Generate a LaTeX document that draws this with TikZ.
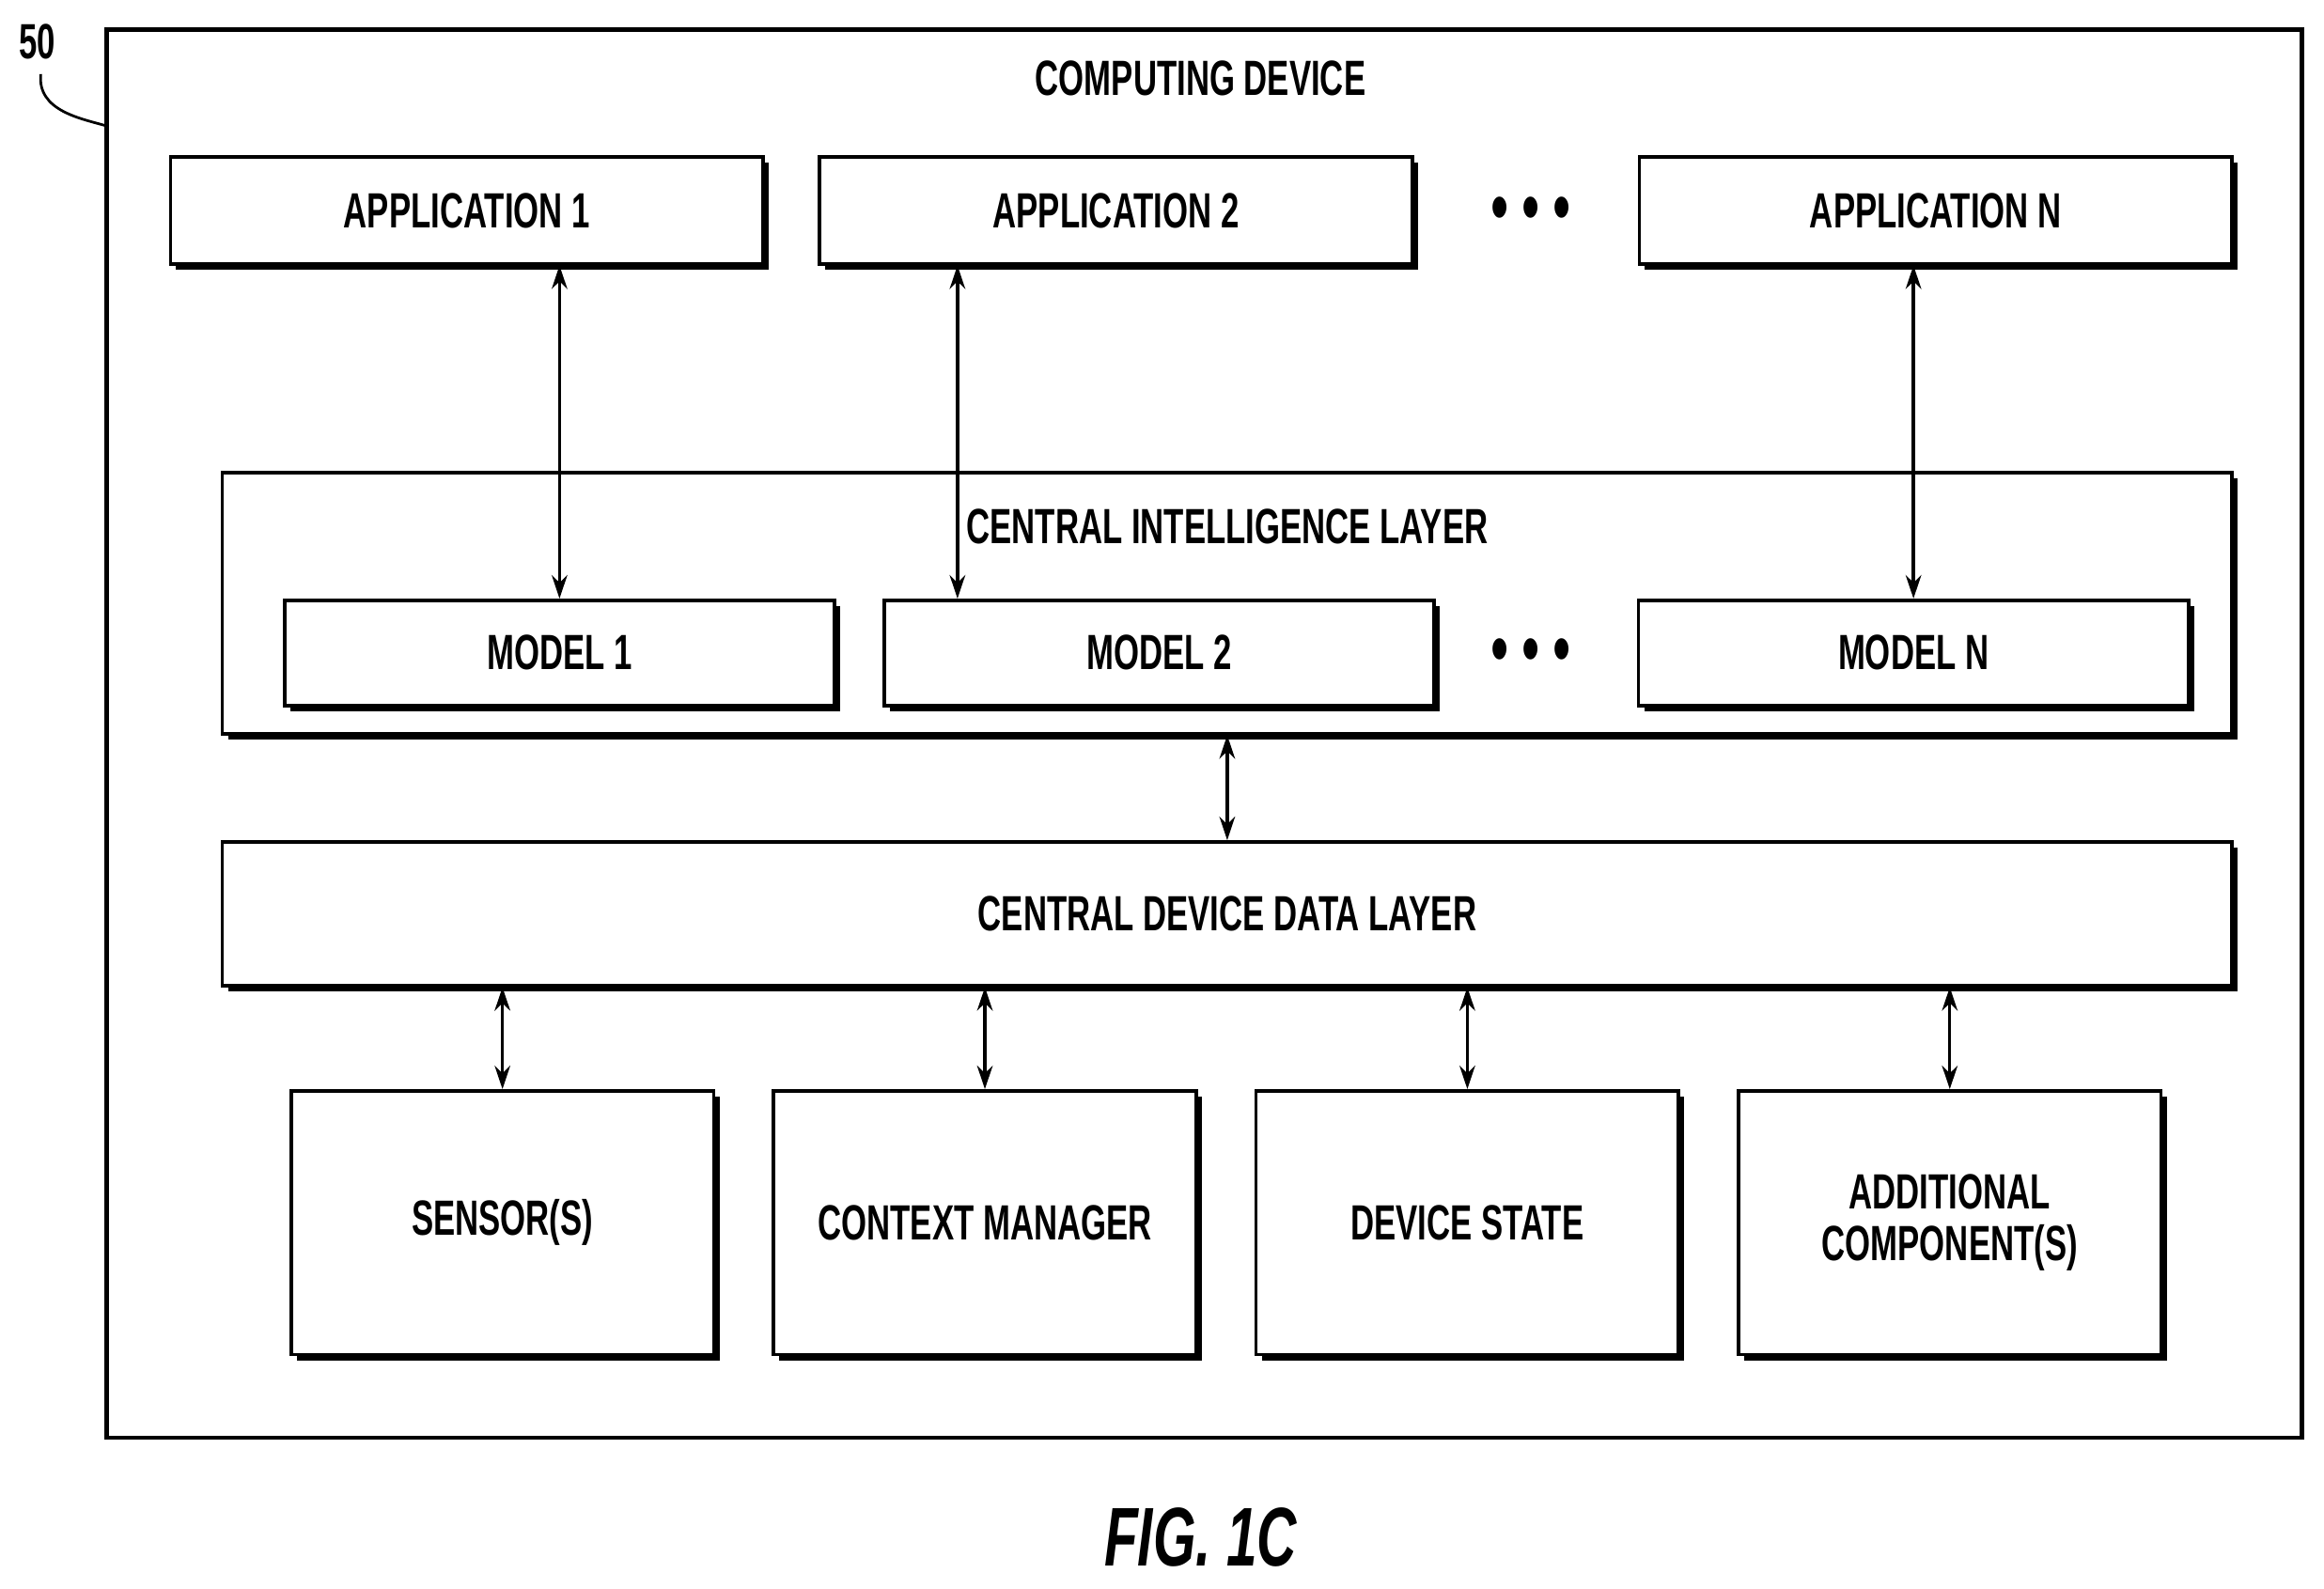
\documentclass[tikz,border=0pt]{standalone}
\usepackage{fontspec}
\setmainfont{Liberation Sans}[FakeStretch=0.66]
\usetikzlibrary{shadows,arrows.meta}
\tikzset{box/.style={draw,line width=1.3pt,fill=white,align=center,
  font=\bfseries\fontsize{19}{21}\selectfont,
  drop shadow={shadow xshift=2.2pt,shadow yshift=-2.2pt,fill=black,opacity=1}}}
\tikzset{link/.style={line width=1.2pt,{Stealth[length=9pt,width=6pt]}-{Stealth[length=9pt,width=6pt]}}}
\tikzset{l/.style={font=\bfseries\fontsize{19}{21}\selectfont}}
\newcommand{\threedots}{\fontsize{30}{30}\selectfont\textbullet\,\textbullet\,\textbullet}
\begin{document}
\begin{tikzpicture}
  \useasboundingbox (0,0) rectangle (31.36,-21.44);
  \draw[line width=1.6pt] (1.44,-0.4) rectangle (31.06,-19.4);
  \node[l] (lbl) at (0.5,-0.56) {50};
  \draw[line width=1pt] (0.55,-1.0) .. controls (0.5,-1.5) and (1.1,-1.6) .. (1.44,-1.7);
  \node[l] (title) at (16.2,-1.06) {COMPUTING DEVICE};
  % applications
  \node[box,minimum width=8cm,minimum height=1.44cm] (app1) at (6.30,-2.84) {APPLICATION 1};
  \node[box,minimum width=8cm,minimum height=1.44cm] (app2) at (15.06,-2.84) {APPLICATION 2};
  \node[box,minimum width=8cm,minimum height=1.44cm] (appn) at (26.12,-2.84) {APPLICATION N};
  \node (dots1) at (20.66,-2.9) {\threedots};
  % central intelligence layer
  \node[box,minimum width=27.12cm,minimum height=3.52cm,drop shadow={opacity=0}] (cil) at (16.56,-8.14) {};
  \node[l] (ciltitle) at (16.56,-7.1) {CENTRAL INTELLIGENCE LAYER};
  \node[box,minimum width=7.42cm,minimum height=1.42cm] (m1) at (7.55,-8.81) {MODEL 1};
  \node[box,minimum width=7.42cm,minimum height=1.42cm] (m2) at (15.64,-8.81) {MODEL 2};
  \node[box,minimum width=7.42cm,minimum height=1.42cm] (mn) at (25.82,-8.81) {MODEL N};
  \node (dots2) at (20.66,-8.86) {\threedots};
  % data layer
  \node[box,minimum width=27.12cm,minimum height=1.94cm] (cddl) at (16.56,-12.33) {CENTRAL DEVICE DATA LAYER};
  \node[box,minimum width=5.7cm,minimum height=3.56cm] (sens) at (6.78,-16.5) {SENSOR(S)};
  \node[box,minimum width=5.7cm,minimum height=3.56cm] (ctx) at (13.29,-16.5) {CONTEXT MANAGER};
  \node[box,minimum width=5.7cm,minimum height=3.56cm] (state) at (19.8,-16.5) {DEVICE STATE};
  \node[box,minimum width=5.7cm,minimum height=3.56cm] (add) at (26.31,-16.5) {ADDITIONAL\\[-1pt]COMPONENT(S)};
  % connectors
  \draw[link] (app1.south -| m1.north) -- (m1.north);
  \draw[link] (app2.south -| 12.92,0) -- (m2.north -| 12.92,0);
  \draw[link] (appn.south -| mn.north) -- (mn.north);
  \draw[link] (cil.south) -- (cddl.north);
  \foreach \b in {sens,ctx,state,add}
    \draw[link] (cddl.south -| \b.north) -- (\b.north);
  \node[font=\bfseries\itshape\fontsize{32}{34}\selectfont] (fig) at (16.2,-20.74) {FIG. 1C};
\end{tikzpicture}
\end{document}
